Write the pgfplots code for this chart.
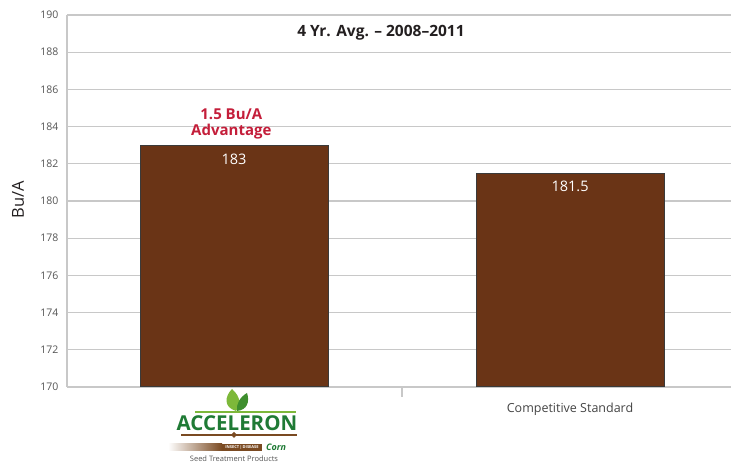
\documentclass[border=0pt]{standalone}
\usepackage{fontspec}
\setmainfont{Open Sans}
\usepackage{pgfplots}
\pgfplotsset{compat=1.18}
\definecolor{barbrown}{HTML}{6A3416}
\definecolor{bardark}{HTML}{3A3A3A}
\definecolor{gridgray}{HTML}{C8C8C8}
\definecolor{ticktext}{HTML}{555555}
\definecolor{advred}{HTML}{C41E3A}
\definecolor{titletext}{HTML}{231F20}
\definecolor{logogreen}{HTML}{1F7A35}
\definecolor{leaflight}{HTML}{7DB83A}
\definecolor{leafdark}{HTML}{3E8E2E}
\definecolor{logobrown}{HTML}{7A4A22}
\begin{document}
\begin{tikzpicture}[x=1pt,y=1pt]
\useasboundingbox (0,0) rectangle (731,465);
\begin{axis}[
  at={(67pt,78pt)}, anchor=south west,
  scale only axis, width=664pt, height=372pt,
  ymin=170, ymax=190, ytick={170,172,...,190},
  xmin=-0.497, xmax=1.479,
  xtick={0,1}, xticklabels={,Competitive Standard},
  extra x ticks={0.5}, extra x tick labels={},
  extra x tick style={major tick length=10pt, tick style={draw=gridgray, line width=1.2pt}, xmajorgrids=false},
  major tick length=0pt,
  tick align=outside,
  ymajorgrids, grid style={gridgray, line width=1.2pt},
  axis x line*=bottom, axis y line*=left,
  axis line style={gridgray, line width=1.2pt},
  /pgf/number format/assume math mode=true,
  yticklabel style={font=\fontsize{10.5}{12}\selectfont, color=ticktext, xshift=-5pt},
  xticklabel style={font=\fontsize{12.5}{14}\selectfont, color=ticktext!80!black, yshift=-12pt},
  clip=false,
]
\addplot[ybar, bar width=188pt, fill=barbrown, draw=bardark, line width=1pt,
  nodes near coords, every node near coord/.append style={anchor=north, yshift=-4.5pt, text=white, font=\fontsize{14.5}{16}\selectfont}]
  coordinates {(0,183) (1,181.5)};
\node[align=center, text=advred, font=\bfseries\fontsize{15}{15.5}\selectfont] at (axis cs:-0.008,184.15) {1.5 Bu/A\\Advantage};
\end{axis}
\node[font=\bfseries\fontsize{15.5}{17}\selectfont, text=titletext] at (381,432) {4 Yr. Avg. – 2008–2011};
\node[rotate=90, font=\fontsize{16.5}{18}\selectfont, text=titletext] at (18,265) {Bu/A};
% logo
\draw[leaflight, line width=2pt] (195,53) -- (296,53);
\fill[leaflight] (236,54) .. controls (223,58) and (225,69) .. (232,76) .. controls (241,68) and (241,60) .. (236,54);
\fill[leafdark] (237,54) .. controls (247,55) and (250,63) .. (247,72) .. controls (240,68) and (236,61) .. (237,54);
\node[font=\bfseries\fontsize{20.5}{22}\selectfont, text=logogreen] at (237,42) {ACCELERON};
\draw[logobrown, line width=1.2pt] (181,30) -- (297,30);
\fill[logobrown] (234,27) -- (237,30) -- (234,33) -- (231,30) -- cycle;
\shade[left color=white, right color=logobrown] (168,14) rectangle (222,21);
\fill[logobrown] (222,14) rectangle (262,21);
\node[font=\bfseries\fontsize{4}{5}\selectfont, text=white] at (242,17.5) {INSECT\,|\,DISEASE};
\node[font=\bfseries\itshape\fontsize{9}{10}\selectfont, text=logogreen] at (276,17.5) {Corn};
\node[font=\fontsize{7.5}{8}\selectfont, text=ticktext] at (234,6) {Seed Treatment Products};
\end{tikzpicture}
\end{document}
